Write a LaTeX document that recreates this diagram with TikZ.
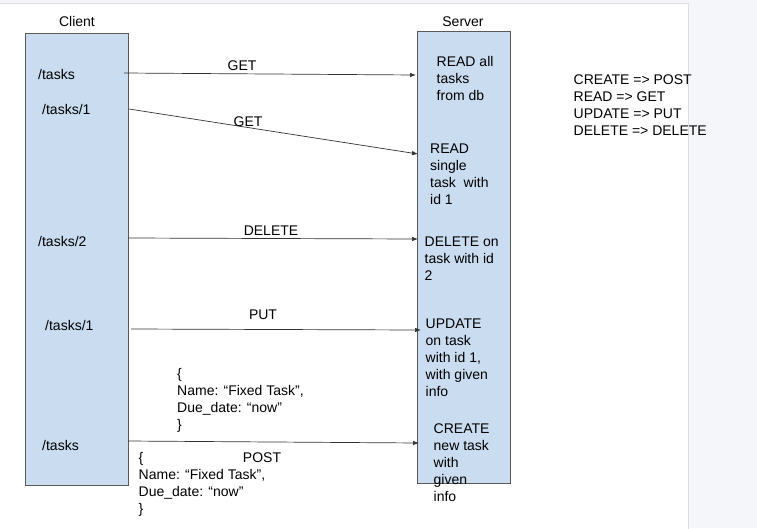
\documentclass[tikz,border=0pt]{standalone}
\usepackage{fontspec}
\setmainfont{Liberation Sans}
\usepackage{tikz}
\usetikzlibrary{arrows.meta}
\definecolor{boxblue}{HTML}{C9DCF0}
\definecolor{pagegray}{HTML}{F5F6F9}
\definecolor{edgegray}{HTML}{DDDDE2}

\begin{document}
\begin{tikzpicture}[x=1pt, y=-1pt,
    every node/.style={font=\fontsize{14}{17}\selectfont, inner sep=0pt},
    lane/.style={draw=black!65, line width=0.8pt, fill=boxblue, anchor=north west},
    txt/.style={anchor=base west},
    block/.style={anchor=north west, align=left},
    msg/.style={draw=black!80, line width=0.7pt, -{Latex[length=6pt, width=4.5pt]}}]
  \useasboundingbox (0,0) rectangle (757,528);
  \fill[pagegray] (0,0) rectangle (757,528);
  \filldraw[fill=white, draw=edgegray] (-1,3) rectangle (688,529);

  % the two lanes
  \node[lane, minimum width=103pt, minimum height=452pt] (client) at (25,33) {};
  \node[lane, minimum width=93pt, minimum height=452pt] (server) at (417,31) {};
  \node[anchor=base] (clienthead) at (77,26.5) {Client};
  \node[anchor=base] (serverhead) at (463,26.5) {Server};

  % client side
  \node[txt] (c1) at (38,79) {/tasks};
  \node[txt] (c2) at (42,114) {/tasks/1};
  \node[txt] (c3) at (38,246.5) {/tasks/2};
  \node[txt] (c4) at (45,330.5) {/tasks/1};
  \node[txt] (c5) at (42,450) {/tasks};

  % server side (top of first line)
  \node[block] (s1) at (436.5,56.3) {READ all\\tasks\\from db};
  \node[block] (s2) at (430,143.3) {READ\\single\\task\ \ with\\id 1};
  \node[block] (s3) at (424.5,236.5) {DELETE on\\task with id\\2};
  \node[block] (s4) at (425.5,318.5) {UPDATE\\on task\\with id 1,\\with given\\info};
  \node[block] (s5) at (433.5,424) {CREATE\\new task\\with\\given\\info};

  % requests
  \coordinate (a1) at (124,73);  \coordinate (b1) at (416,75);
  \coordinate (a2) at (129,109); \coordinate (b2) at (418,154);
  \coordinate (a3) at (128,238); \coordinate (b3) at (418,239);
  \coordinate (a4) at (131,329); \coordinate (b4) at (421,330);
  \coordinate (a5) at (128,441); \coordinate (b5) at (419,443);
  \draw[msg] (a1) -- (b1);
  \draw[msg] (a2) -- (b2);
  \draw[msg] (a3) -- (b3);
  \draw[msg] (a4) -- (b4);
  \draw[msg] (a5) -- (b5);
  \node[anchor=base] (m1) at (242,70.5) {GET};
  \node[anchor=base] (m2) at (248,126.5) {GET};
  \node[anchor=base] (m3) at (271,235) {DELETE};
  \node[anchor=base] (m4) at (263,319) {PUT};
  \node[anchor=base] (m5) at (262,462) {POST};

  % bodies
  \node[block] (body1) at (177,368.3) {\{\\Name: “Fixed Task”,\\Due\_date: “now”\\\}};
  \node[block] (body2) at (138.5,451.8) {\{\\Name: “Fixed Task”,\\Due\_date: “now”\\\}};

  % legend
  \node[block] (crud) at (573.5,74.8) {CREATE => POST\\READ => GET\\UPDATE => PUT\\DELETE => DELETE};
\end{tikzpicture}
\end{document}
